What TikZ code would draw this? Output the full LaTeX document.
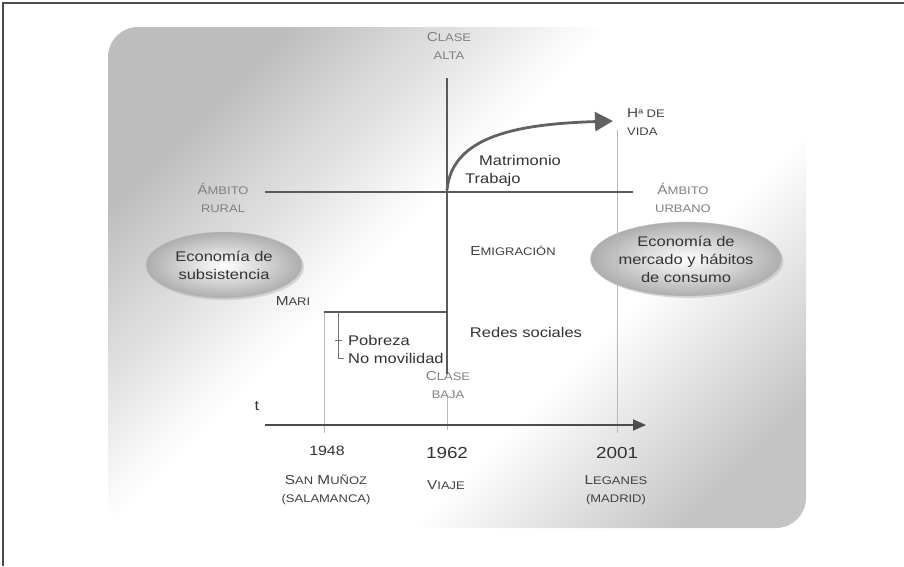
\documentclass[tikz,border=0pt]{standalone}
\usepackage{fontspec}
\setmainfont{Liberation Sans}[FakeStretch=1.18]
\usepackage{tikz}
\usetikzlibrary{arrows.meta,calc,positioning,shadows,shapes.geometric}
\newcommand{\fsc}[2]{#1{\fontsize{11}{18}\selectfont #2}}
\pgfdeclareverticalshading{panelshade}{100bp}{color(0bp)=(black!23); color(22bp)=(black!23); color(38bp)=(white); color(56bp)=(white); color(75bp)=(black!26); color(100bp)=(black!26)}
\tikzset{%
	frame/.style    = {draw=black!70, line width=2pt},
	panel/.style    = {rounded corners=30pt, shading=panelshade, shading angle=45},
	axis/.style     = {draw=black!65, line width=2.8pt}, % ejes
	guide/.style    = {draw=black!28, line width=0.9pt}, % fechas
	bracket/.style  = {draw=black!55, line width=0.9pt},
	timeline/.style = {draw=black!70, line width=1.8pt, -{Triangle[length=13pt,width=11pt]}},
	arrow/.style    = {draw=black!62, line width=2.8pt, -{Triangle[length=18pt,width=19pt]}},
	lbl/.style      = {font=\fontsize{13}{18}\selectfont, text=black!50, align=center, inner sep=0pt}, % eje
	dlbl/.style     = {lbl, text=black!75},
	txt/.style      = {font=\fontsize{14}{18}\selectfont, text=black!80, inner sep=0pt},
	year/.style     = {txt, font=\fontsize{13.5}{18}\selectfont},
	bigyear/.style  = {txt, font=\fontsize{16}{18}\selectfont},
	bubble/.style   = {ellipse, txt, align=center, draw=black!25, inner color=white, outer color=black!32, drop shadow={shadow xshift=2pt, shadow yshift=-2pt, opacity=0.25}},
}

\begin{document}
\begin{tikzpicture}[x=1pt, y=-1pt]
	\useasboundingbox (0,0) rectangle (904,566);
	\draw[frame] (3,566) -- (3,3) -- (904,3);
	\shade[panel] (108,27) rectangle (806,528);

	\coordinate (alta) at (447,78);
	\coordinate (baja) at (447,374);
	\coordinate (rural) at (265,192);
	\coordinate (urbano) at (633,192);
	\coordinate (origen) at (447,190);
	\coordinate (vida) at (613,121);
	\coordinate (mari) at (324,312);
	\coordinate (brTop) at (338,312);
	\coordinate (t0) at (265,425);
	\coordinate (t1) at (646,425);
	\coordinate (f48) at (324,433);
	\coordinate (f62top) at (447,398);
	\coordinate (f62) at (447,430);
	\coordinate (f01top) at (617,130);
	\coordinate (f01) at (617,433);

	\node[lbl] (altaLbl) at (449,46) {\fsc{C}{LASE}\\\fsc{}{ALTA}};
	\node[lbl] (bajaLbl) at (448,385) {\fsc{C}{LASE}\\\fsc{}{BAJA}};
	\node[lbl] (ruralLbl) at (223,198) {\fsc{Á}{MBITO}\\\fsc{}{RURAL}};
	\node[lbl] (urbanoLbl) at (683,198) {\fsc{Á}{MBITO}\\\fsc{}{URBANO}};
	\node[dlbl, align=left, anchor=west] (vidaLbl) at (627,122) {\fsc{H}{ª DE}\\\fsc{}{VIDA}};
	\node[txt, anchor=west] (matri) at (479,160) {Matrimonio};
	\node[txt, anchor=west] (trab) at (465,180) {Trabajo};
	\node[dlbl] (emig) at (513,251) {\fsc{E}{MIGRACIÓN}};
	\node[dlbl] (mariLbl) at (293,301) {\fsc{M}{ARI}};
	\node[txt] (redes) at (526,332) {Redes sociales};
	\node[txt, anchor=west] (pobreza) at (348,340) {Pobreza};
	\node[txt, anchor=west] (nomov) at (348,358) {No movilidad};
	\node[bubble, minimum width=156pt, minimum height=66pt] (subs) at (224,265) {Economía de\\subsistencia};
	\node[bubble, minimum width=170pt, minimum height=74pt] (merc) at (686,259) {Economía de\\mercado y hábitos\\de consumo};

	\node[txt] (tLbl) at (257,406) {t};
	\node[year] (y48) at (327,451) {1948};
	\node[bigyear] (y62) at (447,453) {1962};
	\node[bigyear] (y01) at (617,453) {2001};
	\node[dlbl] (sanMunoz) at (326,490) {\fsc{S}{AN} \fsc{M}{UÑOZ}\\\fsc{}{(SALAMANCA)}};
	\node[dlbl] (viajeLbl) at (446,485) {\fsc{V}{IAJE}};
	\node[dlbl] (leganes) at (616,490) {\fsc{L}{EGANES}\\\fsc{}{(MADRID)}};

	\draw[guide] (mari) -- (f48);
	\draw[guide] (f62top) -- (f62);
	\draw[guide] (f01top) -- (f01);
	\draw[axis] (alta) -- (baja);
	\draw[axis] (rural) -- (urbano);
	\draw[axis] (mari) -- (mari -| alta);
	\draw[bracket] (brTop) |- ([xshift=-4pt]nomov.west);
	\draw[bracket] ([xshift=-3pt]brTop |- pobreza.west) -- ([xshift=4pt]brTop |- pobreza.west);
	\draw[arrow] (origen) .. controls (452,135) and (520,124) .. (vida);
	\draw[timeline] (t0) -- (t1);
\end{tikzpicture}
\end{document}
